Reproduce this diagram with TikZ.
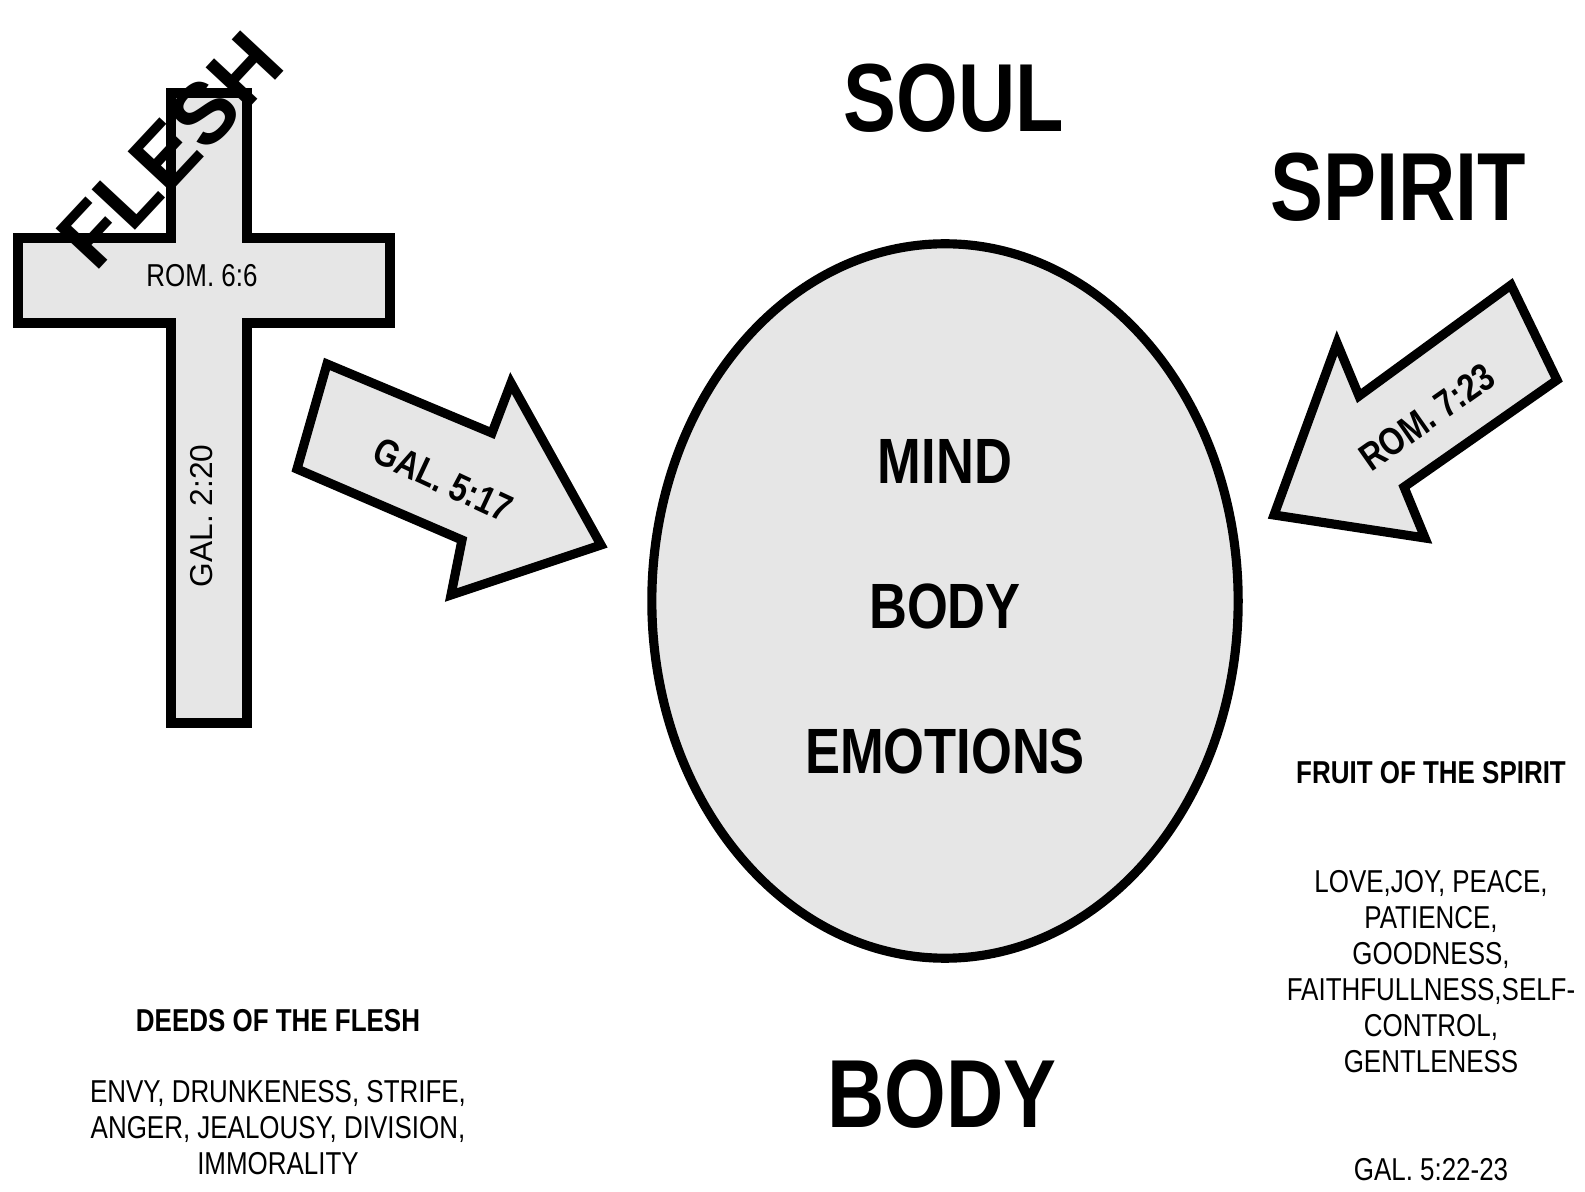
\documentclass[tikz,border=0pt]{standalone}
\usepackage{fontspec}
\setmainfont{Liberation Sans}
\newfontfamily\narrowsans[FakeStretch=0.82]{Liberation Sans}
\usetikzlibrary{positioning,shapes.geometric}
\definecolor{soulgray}{HTML}{E6E6E6}

\begin{document}
\begin{tikzpicture}[x=0.01cm, y=-0.01cm,
   node distance=5mm,
   panel/.style={draw, line width=2.6pt, fill=soulgray, line join=miter},
   heading/.style={font=\narrowsans\bfseries\fontsize{27.5}{32}\selectfont, inner sep=0pt},
   part/.style={font=\narrowsans\bfseries\fontsize{18.2}{22}\selectfont, inner sep=0pt},
   verse/.style={font=\narrowsans\fontsize{9}{10.2}\selectfont, inner sep=0pt},
   tag/.style={font=\narrowsans\bfseries\fontsize{11}{13}\selectfont, inner sep=0pt},
   caption/.style={font=\narrowsans\bfseries\fontsize{9}{10.2}\selectfont, inner sep=0pt},
   list/.style={verse, align=center}]
  \useasboundingbox (0,0) rectangle (1585,1192);
  % the cross
  \draw[panel] (171,93) -- (247,93) -- (247,238) -- (390,238) -- (390,323) -- (247,323)
    -- (247,723) -- (171,723) -- (171,323) -- (18,323) -- (18,238) -- (171,238) -- cycle;
  \node[verse] (rom66) at (202,276) {ROM. 6:6};
  \node[verse, font=\fontsize{9}{10}\selectfont, rotate=90] (gal220) at (202,516) {GAL. 2:20};
  \node[font=\bfseries\fontsize{24.5}{28}\selectfont, inner sep=0pt, rotate=47] (flesh) at (170,150) {FLESH};
  % block arrows
  \draw[panel] (327,364) -- (492,433) -- (511,383) -- (601,545) -- (451,595) -- (462,540) -- (297,469) -- cycle;
  \node[tag, rotate=-25] (gal517) at (443,480) {GAL. 5:17};
  \draw[panel] (1511,285) -- (1359,396) -- (1337,343) -- (1274,515) -- (1425,538) -- (1404,487) -- (1557,380) -- cycle;
  \node[tag, rotate=35] (rom723) at (1427,417) {ROM. 7:23};
  % the soul
  \node[panel, ellipse, minimum width=5.86cm, minimum height=7.14cm] (soul) at (945,601) {};
  \node[part] (mind) at (945,461) {MIND};
  \node[part, below=9.9mm of mind] (body) {BODY};
  \node[part, below=9.9mm of body] (emotions) {EMOTIONS};
  % headings
  \node[heading] (soultitle) at (954,98) {SOUL};
  \node[heading] (spirit) at (1398,187) {SPIRIT};
  \node[heading] (bodytitle) at (942,1094) {BODY};
  % deeds and fruit
  \node[caption] (deeds) at (278,1021) {DEEDS OF THE FLESH};
  \node[list, below=4.7mm of deeds] (deedslist) {ENVY, DRUNKENESS, STRIFE,\\ ANGER, JEALOUSY, DIVISION,\\ IMMORALITY};
  \node[caption] (fruit) at (1431,773) {FRUIT OF THE SPIRIT};
  \node[list, below=8.5mm of fruit] (fruitlist) {LOVE,JOY, PEACE,\\ PATIENCE,\\ GOODNESS,\\ FAITHFULLNESS,SELF-\\ CONTROL,\\ GENTLENESS};
  \node[verse, below=8.5mm of fruitlist] (gal522) {GAL. 5:22-23};
\end{tikzpicture}
\end{document}
